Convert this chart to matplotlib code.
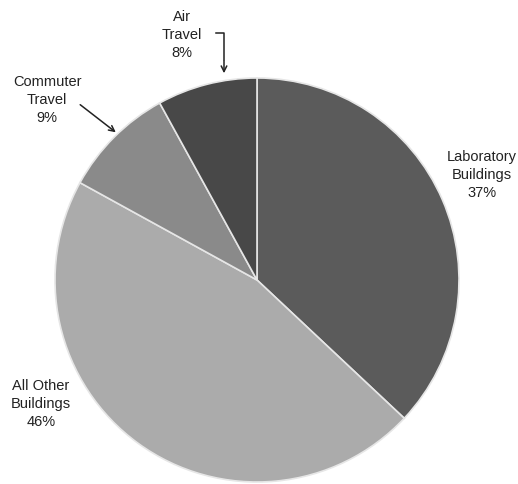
import matplotlib.pyplot as plt

W, H = 518, 484

labels = ["Laboratory\nBuildings", "All Other\nBuildings", "Commuter\nTravel", "Air\nTravel"]
shares = [37, 46, 9, 8]
colors = ["#5b5b5b", "#ababab", "#8a8a8a", "#484848"]

plt.rcParams['font.family'] = ['Liberation Sans', 'DejaVu Sans']

fig = plt.figure(figsize=(W / 100, H / 100), dpi=100)
ax = fig.add_axes([0, 0, 1, 1])

# pie in pixel units (y measured from the bottom)
cx, cy, r = 257, H - 280, 202
ax.pie(shares, colors=colors, startangle=90, counterclock=False,
       center=(cx, cy), radius=r, frame=True,
       wedgeprops=dict(edgecolor='#e6e6e6', linewidth=1.2))
ax.set_xlim(0, W)
ax.set_ylim(0, H)
ax.set_aspect('equal')
ax.axis('off')

# label positions, top-left origin
label_pos = [(482, 175), (41, 404), (47, 100), (182, 35)]
for lab, val, (x, y) in zip(labels, shares, label_pos):
    ax.text(x, H - y, f"{lab}\n{val}%", ha='center', va='center',
            fontsize=10.5, color='#222222', linespacing=1.35)

# Air travel elbow arrow
ax.plot([216, 224, 224], [H - 33, H - 33, H - 60], color='#222222', lw=1.1)
ax.annotate("", xy=(224, H - 76), xytext=(224, H - 58),
            arrowprops=dict(arrowstyle='->', color='#222222', lw=1.1))

# Commuter travel arrow
ax.annotate("", xy=(118, H - 134), xytext=(78, H - 103),
            arrowprops=dict(arrowstyle='->', color='#222222', lw=1.1))

fig.savefig("out.png", dpi=100)
